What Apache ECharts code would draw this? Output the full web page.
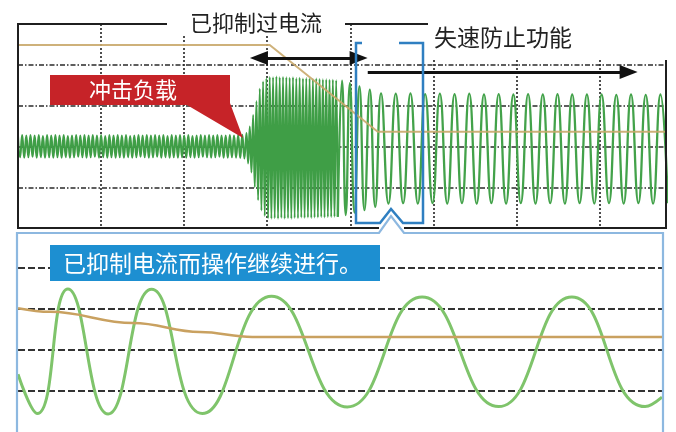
<!DOCTYPE html>
<html>
<head>
<meta charset="utf-8">
<script src="https://cdn.jsdelivr.net/npm/echarts@6/dist/echarts.min.js"></script>
<style>
  html, body { margin: 0; padding: 0; background: #ffffff; }
  #chart { width: 676px; height: 432px; }
</style>
</head>
<body>
<div id="chart"></div>
<script>
// Output current, upper trace: waveform extrema as [time (ms), amplitude (div)]
const steadyCurrent = [
  [0,0.28],[2.5,-0.25],[5,0.29],[7.5,-0.26],[10,0.28],[12.5,-0.25],[15,0.29],[17.5,-0.24],[20,0.28],[22.5,-0.26],
  [25,0.29],[27.5,-0.25],[30,0.27],[32.5,-0.26],[35,0.29],[37.5,-0.25],[40,0.28],[42.5,-0.26],[45,0.29],[47.5,-0.25],
  [50,0.28],[52.5,-0.26],[55,0.29],[57.5,-0.25],[60,0.27],[62.5,-0.26],[65,0.28],[67.5,-0.25],[70,0.29],[72.5,-0.24],
  [75,0.28],[77.5,-0.25],[80,0.29],[82.5,-0.26],[85,0.28],[87.5,-0.25],[90,0.29],[92.5,-0.24],[95,0.28],[97.5,-0.26],
  [100,0.29],[102.5,-0.25],[105,0.27],[107.5,-0.26],[110,0.29],[112.5,-0.25],[115,0.28],[117.5,-0.26],[120,0.29],[122.5,-0.25],
  [125,0.28],[127.5,-0.26],[130,0.29],[132.5,-0.25],[135,0.27],[137.5,-0.26],[140,0.28],[142.5,-0.25],[145,0.29],[147.5,-0.24],
  [150,0.28],[152.5,-0.25],[155,0.29],[157.5,-0.26],[160,0.28],[162.5,-0.25],[165,0.29],[167.5,-0.24],[170,0.28],[172.5,-0.26],
  [175,0.29],[177.5,-0.25],[180,0.27],[182.5,-0.26],[185,0.29],[187.5,-0.25],[190,0.28],[192.5,-0.26],[195,0.29],[197.5,-0.25],
  [200,0.28],[202.5,-0.26],[205,0.29],[207.5,-0.25],[210,0.27],[212.5,-0.26],[215,0.28],[217.5,-0.25],[220,0.29],[222.5,-0.24],
  [225,0.28],[227.5,-0.25],[230,0.29],[232.5,-0.26],[235,0.28],[237.5,-0.25],[240,0.29],[242.5,-0.24],[245,0.28],[247.5,-0.26],
  [250,0.28],[252.5,-0.26],[255,0.29],[257.5,-0.25],[260,0.28],[262.5,-0.26],[265,0.29],[267.5,-0.27],[270,0.30],[272.5,-0.28]
];
const surgeCurrent = [
  [275,0.34],[277,-0.40],[279,0.50],[281,-0.62],[283,0.78],[285,-0.98],[287,1.12],[289,-1.30],[291,1.42],[293,-1.55],
  [295,1.60],[297,-1.68],[299,1.68],[301,-1.74],[303,1.71],[305,-1.75],[307,1.70],[309,-1.74],[311,1.72],[313,-1.75],
  [315,1.70],[317,-1.73],[319,1.71],[321,-1.75],[323,1.70],[325,-1.74],[327,1.69],[329,-1.75],[331,1.70],[333,-1.73],
  [335,1.68],[337,-1.74],[339,1.69],[341,-1.72],[343,1.67],[345,-1.73],[347,1.68],[349,-1.72],[351,1.67],[353,-1.73],
  [355,1.66],[357,-1.72],[359,1.67],[361,-1.72],[363,1.66],[365,-1.71],[367,1.65],[369,-1.72],[371,1.65],[373,-1.71],
  [375,1.64],[377,-1.71],[379,1.64],[381,-1.70],[383,1.63],[385,-1.70]
];
const recoveryCurrent = [
  [390,1.62],[394.5,-1.66],[399.5,1.56],[405,-1.60],[411,1.48],[417,-1.54],[423.5,1.40],[430,-1.46]
];
const runningCurrent = [
  [437,1.31],[445.9,-1.38],[454.7,1.30],[463.6,-1.37],[472.4,1.31],[481.3,-1.38],[490.1,1.29],[499,-1.37],
  [507.8,1.30],[516.7,-1.38],[525.5,1.29],[534.4,-1.37],[543.2,1.30],[552.1,-1.38],[560.9,1.28],[569.8,-1.37],
  [578.6,1.29],[587.5,-1.38],[596.3,1.28],[605.2,-1.37],[614,1.29],[622.9,-1.38],[631.7,1.28],[640.6,-1.37],
  [649.4,1.29],[658.3,-1.38],[667.1,1.28],[676,-1.37],[684.8,1.28],[693.7,-1.38],[702.5,1.28],[711.4,-1.37],
  [720.2,1.27],[729.1,-1.38],[737.9,1.28],[746.8,-1.37],[755.6,1.27],[764.5,-1.38],[773.3,1.28],[782.2,-1.37]
];
// Output frequency, upper trace: [time (ms), level (div)]
const upperFrequency = [[0,2.49],[303,2.49],[433,0.37],[780,0.37]];

// Magnified window: [time (ms), level (div)]
const zoomCurrent = [
  [0,-0.59],[2.4,-1.55],[6.2,1.49],[11.2,-1.56],[16.6,1.48],[22.9,-1.55],[31.5,1.31],
  [40.9,-1.39],[50.2,1.29],[59.7,-1.38],[68.8,1.29],[77.9,-1.38],[80,-1.15]
];
const zoomFrequency = [[0,1.02],[4,0.93],[14.3,0.66],[22.6,0.44],[29.1,0.32],[40,0.32],[80,0.32]];

// Arrow spans on the upper trace: [start ms, end ms, level div]
const suppressionSpan = [290, 410, 2.17];
const stallSpan = [421, 735, 1.83];

// Labels
const textSuppressed = '已抑制过电流';
const textStall = '失速防止功能';
const textImpact = '冲击负载';
const textContinue = '已抑制电流而操作继续进行。';

const FONT = '"Noto Sans CJK SC", "Noto Sans", sans-serif';
const chart = echarts.init(document.getElementById('chart'), null, { renderer: 'canvas' });

function textEl(str, x, y, size, color, align, z) {
  return {
    type: 'text', x: x, y: y, z: z, silent: true,
    style: {
      text: str, fill: color, fontSize: size, fontFamily: FONT,
      align: align, textAlign: align, verticalAlign: 'middle', textVerticalAlign: 'middle'
    }
  };
}
function lineEl(x1, y1, x2, y2, color, w, z) {
  return { type: 'line', z: z, silent: true,
    shape: { x1: x1, y1: y1, x2: x2, y2: y2 },
    style: { stroke: color, lineWidth: w } };
}

const frameColor = '#1f1f1f';
// the later part of the trace continues from the last surge extremum
const lateCurrent = [surgeCurrent[surgeCurrent.length - 1]].concat(recoveryCurrent, runningCurrent);

const option = {
  animation: false,
  backgroundColor: '#ffffff',
  grid: [
    { left: 18, right: 10, top: 24, height: 205 },
    { left: 18, right: 14, top: 227, height: 205 }
  ],
  xAxis: [
    { type: 'value', gridIndex: 0, min: 0, max: 780, interval: 100,
      axisLine: { show: false }, axisTick: { show: false }, axisLabel: { show: false },
      splitLine: { show: true, showMinLine: false, showMaxLine: false,
        lineStyle: { color: '#222', width: 1.6, type: [2, 2] } } },
    { type: 'value', gridIndex: 1, min: 0, max: 80,
      axisLine: { show: false }, axisTick: { show: false }, axisLabel: { show: false },
      splitLine: { show: false } }
  ],
  yAxis: [
    { type: 'value', gridIndex: 0, min: -2, max: 3, interval: 1,
      axisLine: { show: false }, axisTick: { show: false }, axisLabel: { show: false },
      splitLine: { show: true, showMinLine: false, showMaxLine: false,
        lineStyle: { color: '#2a2a2a', width: 1.6, type: [5, 2, 1.5, 2] } } },
    { type: 'value', gridIndex: 1, min: -2, max: 3, interval: 1,
      axisLine: { show: false }, axisTick: { show: false }, axisLabel: { show: false },
      splitLine: { show: true, showMinLine: false, showMaxLine: false,
        lineStyle: { color: '#333', width: 2, type: [7, 3] } } }
  ],
  series: [
    { type: 'line', name: 'current', xAxisIndex: 0, yAxisIndex: 0, z: 3,
      data: steadyCurrent.concat(surgeCurrent),
      showSymbol: false, smooth: 0.5, silent: true,
      lineStyle: { color: '#3f9e46', width: 2 } },
    { type: 'line', name: 'currentLate', xAxisIndex: 0, yAxisIndex: 0, z: 3,
      data: lateCurrent,
      showSymbol: false, smooth: 0.5, silent: true,
      lineStyle: { color: '#43a24a', width: 2.3 } },
    { type: 'line', name: 'frequency', xAxisIndex: 0, yAxisIndex: 0, z: 4,
      data: upperFrequency, showSymbol: false, silent: true,
      lineStyle: { color: '#c9a86c', width: 2, opacity: 0.9 },
      markLine: {
        silent: true, animation: false,
        symbol: ['triangle', 'triangle'], symbolSize: [14, 18],
        label: { show: false },
        lineStyle: { color: '#111', width: 3, type: 'solid' },
        data: [
          [{ coord: [suppressionSpan[0], suppressionSpan[2]] }, { coord: [suppressionSpan[1], suppressionSpan[2]] }],
          [{ coord: [stallSpan[0], stallSpan[2]], symbol: 'none' }, { coord: [stallSpan[1], stallSpan[2]] }]
        ]
      } },
    { type: 'line', name: 'zoomCurrent', xAxisIndex: 1, yAxisIndex: 1, z: 3,
      data: zoomCurrent, showSymbol: false, smooth: 0.5, silent: true,
      lineStyle: { color: '#7fc46b', width: 3 } },
    { type: 'line', name: 'zoomFrequency', xAxisIndex: 1, yAxisIndex: 1, z: 4,
      data: zoomFrequency, showSymbol: false, smooth: 0.4, smoothMonotone: 'x', silent: true,
      lineStyle: { color: '#c9a160', width: 2.5 } }
  ],
  graphic: { elements: [
    // blank strips behind the headings
    { type: 'rect', z: 1, silent: true, shape: { x: 168, y: 0, width: 176, height: 34 }, style: { fill: '#ffffff' } },
    { type: 'rect', z: 1, silent: true, shape: { x: 430, y: 0, width: 246, height: 59 }, style: { fill: '#ffffff' } },
    // upper frame
    lineEl(18, 24, 167, 24, frameColor, 2, 6),
    lineEl(345, 24, 428, 24, frameColor, 2, 6),
    lineEl(18, 23, 18, 229, frameColor, 2, 6),
    lineEl(666, 60, 666, 229, frameColor, 2, 6),
    lineEl(17, 228, 379, 228, frameColor, 2, 6),
    lineEl(404, 228, 667, 228, frameColor, 2, 6),
    // headings
    textEl(textSuppressed, 256, 23, 22, '#222', 'center', 20),
    textEl(textStall, 503, 37, 23, '#222', 'center', 20),
    // impact-load callout
    { type: 'polygon', z: 15, silent: true,
      shape: { points: [[50,75],[230,75],[230,103],[243,138],[187,105],[50,105]] },
      style: { fill: '#c62328' } },
    textEl(textImpact, 133, 90, 22, '#ffffff', 'center', 16),
    // window marker on the upper trace
    { type: 'polyline', z: 12, silent: true,
      shape: { points: [[362,43],[356,43],[356,223],[380,223],[391,209],[403,223],[423,223],[423,43],[399,43]] },
      style: { stroke: '#2f7fc1', lineWidth: 2.5, fill: null } },
    // magnified panel outline
    { type: 'polyline', z: 12, silent: true,
      shape: { points: [[17,440],[17,233],[379,233],[391,216],[404,233],[663,233],[663,440]] },
      style: { stroke: '#8db8e0', lineWidth: 2.2, fill: null } },
    // magnified panel caption
    { type: 'rect', z: 15, silent: true, shape: { x: 50, y: 245, width: 330, height: 36 }, style: { fill: '#1d8fd1' } },
    textEl(textContinue, 63, 263, 23, '#ffffff', 'left', 16)
  ] }
};

chart.setOption(option);
</script>
</body>
</html>
